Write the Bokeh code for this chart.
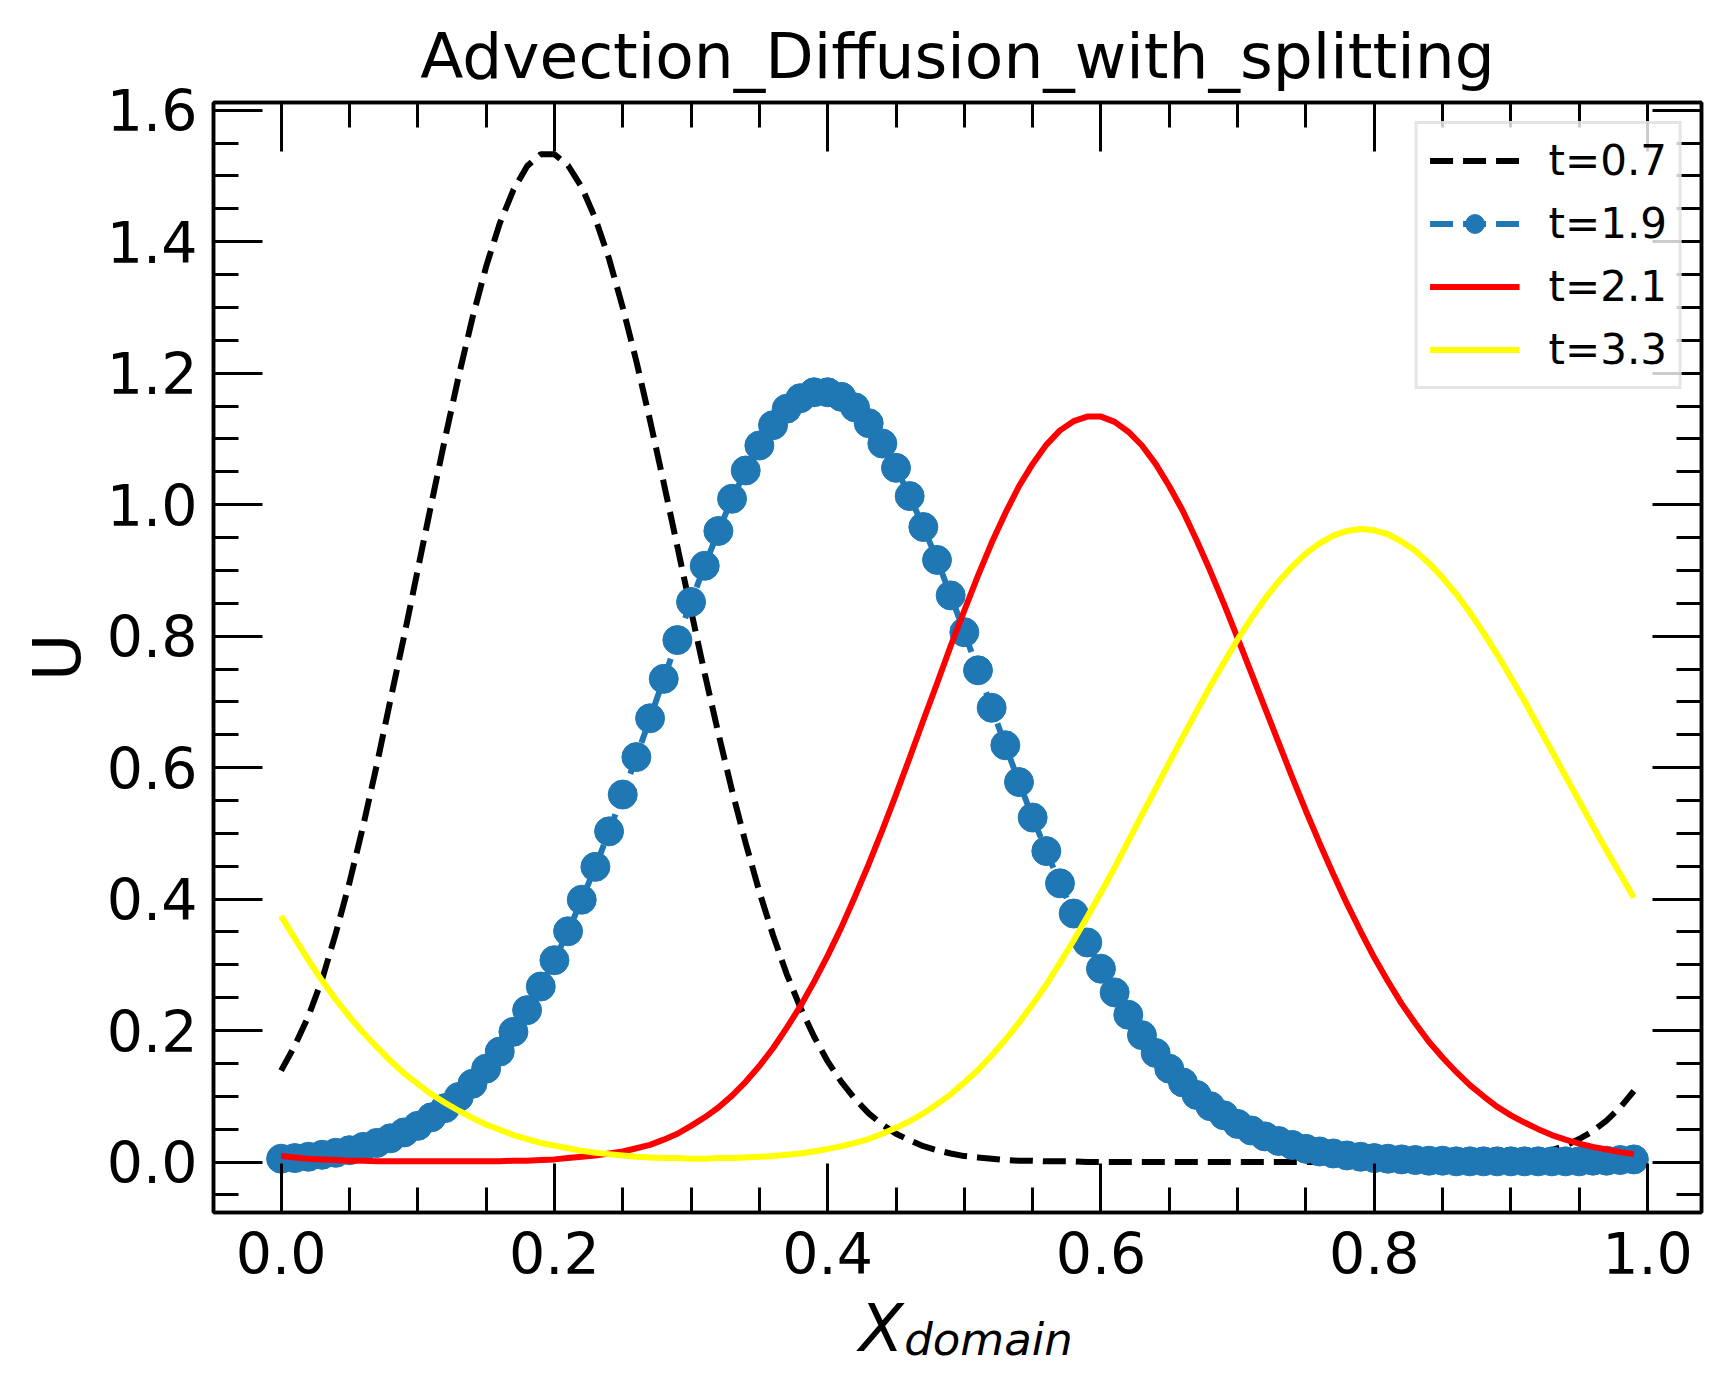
from bokeh.plotting import figure
from bokeh.embed import file_html
from bokeh.resources import INLINE
from bokeh.models import (Range1d, LinearAxis, SingleIntervalTicker, PrintfTickFormatter,
                          Legend, LegendItem, Label)

# grid of the domain and the four saved solutions
x_domain = [0.00, 0.01, 0.02, 0.03, 0.04, 0.05, 0.06, 0.07, 0.08, 0.09,
            0.10, 0.11, 0.12, 0.13, 0.14, 0.15, 0.16, 0.17, 0.18, 0.19,
            0.20, 0.21, 0.22, 0.23, 0.24, 0.25, 0.26, 0.27, 0.28, 0.29,
            0.30, 0.31, 0.32, 0.33, 0.34, 0.35, 0.36, 0.37, 0.38, 0.39,
            0.40, 0.41, 0.42, 0.43, 0.44, 0.45, 0.46, 0.47, 0.48, 0.49,
            0.50, 0.51, 0.52, 0.53, 0.54, 0.55, 0.56, 0.57, 0.58, 0.59,
            0.60, 0.61, 0.62, 0.63, 0.64, 0.65, 0.66, 0.67, 0.68, 0.69,
            0.70, 0.71, 0.72, 0.73, 0.74, 0.75, 0.76, 0.77, 0.78, 0.79,
            0.80, 0.81, 0.82, 0.83, 0.84, 0.85, 0.86, 0.87, 0.88, 0.89,
            0.90, 0.91, 0.92, 0.93, 0.94, 0.95, 0.96, 0.97, 0.98, 0.99]

u_t07 = [0.139, 0.177, 0.222, 0.278, 0.348, 0.425, 0.511, 0.604, 0.703, 0.800,
         0.901, 1.002, 1.101, 1.196, 1.284, 1.362, 1.428, 1.479, 1.515, 1.533,
         1.533, 1.516, 1.483, 1.435, 1.374, 1.300, 1.218, 1.128, 1.033, 0.936,
         0.839, 0.743, 0.652, 0.565, 0.485, 0.411, 0.345, 0.286, 0.235, 0.191,
         0.153, 0.122, 0.096, 0.074, 0.057, 0.043, 0.033, 0.024, 0.018, 0.013,
         0.009, 0.007, 0.005, 0.003, 0.002, 0.002, 0.001, 0.001, 0.001, 0.000,
         0.000, 0.000, 0.000, 0.000, 0.000, 0.000, 0.000, 0.000, 0.000, 0.000,
         0.000, 0.000, 0.000, 0.000, 0.000, 0.000, 0.000, 0.000, 0.000, 0.000,
         0.000, 0.000, 0.000, 0.000, 0.001, 0.001, 0.001, 0.002, 0.003, 0.004,
         0.006, 0.009, 0.013, 0.018, 0.025, 0.035, 0.047, 0.063, 0.083, 0.108]

u_t19 = [0.005, 0.006, 0.008, 0.011, 0.014, 0.018, 0.023, 0.029, 0.036, 0.045,
         0.055, 0.068, 0.082, 0.099, 0.119, 0.142, 0.168, 0.198, 0.231, 0.267,
         0.307, 0.351, 0.399, 0.449, 0.503, 0.559, 0.616, 0.675, 0.735, 0.794,
         0.852, 0.907, 0.960, 1.009, 1.052, 1.090, 1.121, 1.146, 1.162, 1.171,
         1.171, 1.164, 1.148, 1.124, 1.093, 1.056, 1.013, 0.966, 0.916, 0.862,
         0.806, 0.748, 0.691, 0.634, 0.578, 0.524, 0.473, 0.424, 0.378, 0.334,
         0.294, 0.258, 0.224, 0.193, 0.166, 0.142, 0.121, 0.102, 0.085, 0.071,
         0.058, 0.048, 0.039, 0.032, 0.026, 0.020, 0.016, 0.013, 0.010, 0.008,
         0.006, 0.005, 0.004, 0.003, 0.002, 0.002, 0.001, 0.001, 0.001, 0.001,
         0.001, 0.001, 0.001, 0.001, 0.001, 0.001, 0.002, 0.002, 0.003, 0.004]

u_t21 = [0.009, 0.007, 0.005, 0.004, 0.003, 0.002, 0.002, 0.001, 0.001, 0.001,
         0.001, 0.001, 0.001, 0.001, 0.001, 0.001, 0.001, 0.002, 0.002, 0.003,
         0.004, 0.006, 0.008, 0.010, 0.013, 0.016, 0.021, 0.026, 0.034, 0.043,
         0.055, 0.068, 0.083, 0.101, 0.122, 0.146, 0.173, 0.204, 0.237, 0.274,
         0.314, 0.357, 0.404, 0.453, 0.505, 0.559, 0.615, 0.672, 0.728, 0.785,
         0.839, 0.892, 0.942, 0.987, 1.028, 1.062, 1.091, 1.113, 1.127, 1.134,
         1.134, 1.126, 1.111, 1.090, 1.062, 1.028, 0.990, 0.946, 0.899, 0.849,
         0.797, 0.744, 0.691, 0.638, 0.585, 0.534, 0.485, 0.438, 0.393, 0.351,
         0.311, 0.275, 0.241, 0.211, 0.183, 0.159, 0.137, 0.117, 0.100, 0.084,
         0.071, 0.060, 0.050, 0.041, 0.034, 0.028, 0.023, 0.019, 0.015, 0.012]

u_t33 = [0.374, 0.340, 0.307, 0.276, 0.247, 0.221, 0.197, 0.175, 0.154, 0.135,
         0.119, 0.103, 0.090, 0.078, 0.067, 0.057, 0.049, 0.041, 0.035, 0.029,
         0.025, 0.021, 0.017, 0.014, 0.012, 0.010, 0.008, 0.007, 0.006, 0.006,
         0.005, 0.005, 0.006, 0.006, 0.007, 0.008, 0.009, 0.011, 0.013, 0.016,
         0.020, 0.024, 0.029, 0.035, 0.043, 0.052, 0.062, 0.074, 0.088, 0.103,
         0.121, 0.140, 0.162, 0.186, 0.212, 0.240, 0.270, 0.303, 0.337, 0.373,
         0.410, 0.448, 0.488, 0.528, 0.568, 0.608, 0.647, 0.686, 0.724, 0.760,
         0.795, 0.827, 0.857, 0.883, 0.906, 0.926, 0.941, 0.953, 0.960, 0.963,
         0.961, 0.955, 0.944, 0.930, 0.911, 0.889, 0.864, 0.836, 0.805, 0.772,
         0.737, 0.701, 0.663, 0.625, 0.587, 0.549, 0.511, 0.474, 0.438, 0.402]

series_labels = ["t=0.7", "t=1.9", "t=2.1", "t=3.3"]

FONT = "DejaVu Sans"

p = figure(frame_width=1488, frame_height=1110,
           x_range=Range1d(-0.0495, 1.0395), y_range=Range1d(-0.0768, 1.6118),
           min_border_left=213, min_border_right=18, min_border_top=102, min_border_bottom=166,
           title="Advection_Diffusion_with_splitting",
           output_backend="svg", toolbar_location=None)

p.title.text_font = FONT
p.title.text_font_size = "63px"
p.title.text_font_style = "normal"
p.title.text_color = "black"
p.title.align = "center"
p.title.standoff = 19
p.grid.visible = False
p.outline_line_color = "black"
p.outline_line_width = 3.5

# ticks on all four sides, pointing inwards like matplotlib's direction='in'
p.add_layout(LinearAxis(), "right")
p.add_layout(LinearAxis(), "above")

for ax in p.xaxis + p.yaxis:
    ax.ticker = SingleIntervalTicker(interval=0.2, num_minor_ticks=4)
    ax.formatter = PrintfTickFormatter(format="%.1f")
    ax.axis_line_width = 3.5
    ax.major_tick_in = 49
    ax.major_tick_out = 0
    ax.minor_tick_in = 25
    ax.minor_tick_out = 0
    ax.major_tick_line_width = 3
    ax.minor_tick_line_width = 3
    ax.major_label_text_font = FONT
    ax.major_label_text_font_size = "57px"
    ax.major_label_text_color = "black"

# the top and right axes only carry ticks
for ax in [p.right[0], p.above[0]]:
    ax.major_label_text_font_size = "0px"
    ax.major_label_text_color = None
    ax.major_label_standoff = 0

p.below[0].major_label_standoff = 19
p.left[0].major_label_standoff = 16
p.left[0].axis_label = "U"
p.left[0].axis_label_text_font = FONT
p.left[0].axis_label_text_font_size = "65px"
p.left[0].axis_label_text_font_style = "normal"
p.left[0].axis_label_text_color = "black"
p.left[0].axis_label_standoff = 9

# lines
r1 = p.line(x_domain, u_t07, line_color="black", line_width=6, line_dash="23 10")
r2a = p.line(x_domain, u_t19, line_color="#1f77b4", line_width=6, line_dash="23 10")
r2b = p.scatter(x_domain, u_t19, marker="circle", size=29, fill_color="#1f77b4", line_color="#1f77b4")
r3 = p.line(x_domain, u_t21, line_color="red", line_width=6)
r4 = p.line(x_domain, u_t33, line_color="yellow", line_width=6)

legend = Legend(items=[LegendItem(label=series_labels[0], renderers=[r1]),
                       LegendItem(label=series_labels[1], renderers=[r2a, r2b]),
                       LegendItem(label=series_labels[2], renderers=[r3]),
                       LegendItem(label=series_labels[3], renderers=[r4])],
                location="top_right", margin=19, padding=12, spacing=14,
                glyph_width=90, glyph_height=47, label_height=47, label_standoff=29,
                label_text_font=FONT, label_text_font_size="42px", label_text_color="black",
                border_line_color="#cccccc", border_line_width=3,
                background_fill_color="white", background_fill_alpha=0.8)
p.add_layout(legend)

# x label as X with subscript "domain", kept in the bottom panel so it isn't clipped
p.add_layout(Label(x=0.423, y=-0.254, text="X", text_font=FONT, text_font_style="italic",
                   text_font_size="65px", text_color="black", text_baseline="alphabetic"), "below")
p.add_layout(Label(x=0.456, y=-0.270, text="domain", text_font=FONT, text_font_style="italic",
                   text_font_size="45px", text_color="black", text_baseline="alphabetic"), "below")

open("out.html", "w").write(file_html(p, INLINE))
